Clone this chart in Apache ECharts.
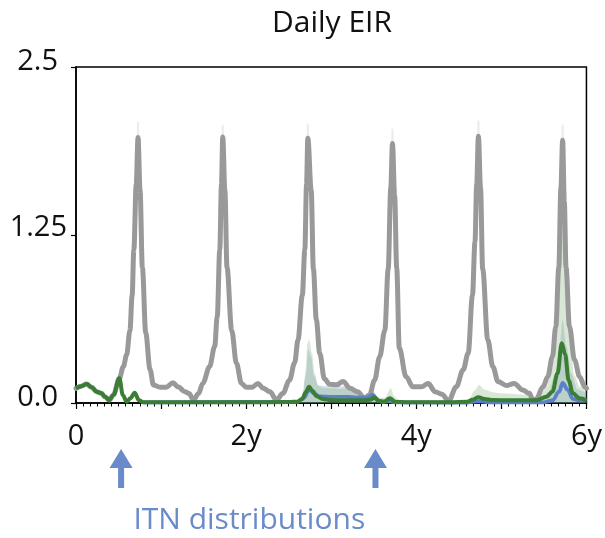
<!DOCTYPE html>
<html>
<head>
<meta charset="utf-8">
<script src="https://cdn.jsdelivr.net/npm/echarts@6/dist/echarts.min.js"></script>
<style>
html,body{margin:0;padding:0;background:#fff;}
#chart{width:605px;height:538px;}
</style>
</head>
<body>
<div id="chart"></div>
<script>
// ---------- data (time in years, daily EIR) ----------
const chartTitle = 'Daily EIR';
const xTickLabels = {0: '0', 2: '2y', 4: '4y', 6: '6y'};
const yTickLabels = {0: '0.0', 1.25: '1.25', 2.5: '2.5'};
const itnDates = [0.53, 3.52];
const itnLabel = 'ITN distributions';

// no-intervention (grey)
const grayT = [0,0.06,0.125,0.184,0.243,0.30,0.34,0.39,0.44,0.51,0.556,0.595,0.634,0.66,0.68,0.708,0.729,0.753,0.78,0.82,0.87,0.91,0.99,1.06,1.14,1.2,1.28,1.33,1.38,1.44,1.49,1.57,1.63,1.66,1.69,1.71,1.725,1.75,1.775,1.83,1.886,1.945,2.0,2.07,2.14,2.2,2.28,2.355,2.43,2.51,2.57,2.61,2.66,2.69,2.71,2.725,2.765,2.79,2.825,2.865,2.92,2.98,3.06,3.14,3.22,3.31,3.39,3.45,3.51,3.57,3.63,3.67,3.70,3.72,3.745,3.77,3.80,3.88,3.96,4.06,4.14,4.22,4.30,4.38,4.47,4.55,4.61,4.66,4.69,4.71,4.73,4.755,4.78,4.84,4.90,4.96,5.06,5.15,5.25,5.33,5.37,5.41,5.49,5.545,5.60,5.64,5.675,5.70,5.72,5.74,5.76,5.80,5.86,5.92,5.98,6.0];
const grayV = [0.109,0.125,0.141,0.117,0.084,0.072,0.047,0.022,0.06,0.184,0.27,0.357,0.54,0.8,1.14,1.63,1.975,1.58,1.01,0.52,0.25,0.134,0.117,0.118,0.15,0.12,0.084,0.07,0.022,0.07,0.146,0.27,0.42,0.64,1.14,1.63,1.98,1.58,1.01,0.54,0.295,0.146,0.117,0.118,0.146,0.11,0.084,0.022,0.07,0.17,0.3,0.47,0.8,1.14,1.63,1.97,1.58,1.0,0.62,0.37,0.18,0.14,0.135,0.16,0.11,0.084,0.035,0.06,0.17,0.345,0.54,1.0,1.6,1.93,1.55,1.0,0.41,0.196,0.12,0.12,0.146,0.084,0.066,0.015,0.12,0.245,0.37,0.8,1.2,1.63,1.985,1.6,1.0,0.47,0.27,0.16,0.13,0.146,0.097,0.072,0.02,0.03,0.12,0.196,0.345,0.57,1.01,1.6,1.955,1.5,1.01,0.57,0.32,0.196,0.12,0.11];

// ITN scenario A (green)
const greenT = [0,0.06,0.125,0.184,0.243,0.30,0.34,0.39,0.44,0.51,0.55,0.595,0.64,0.69,0.74,0.79,1.2,2.0,2.5,2.6,2.66,2.70,2.74,2.78,2.83,2.9,3.0,3.2,3.4,3.46,3.51,3.56,3.62,3.69,3.75,3.9,4.4,4.6,4.66,4.73,4.8,4.9,5.1,5.3,5.41,5.53,5.60,5.66,5.71,5.75,5.79,5.84,5.92,6.0];
const greenV = [0.109,0.125,0.141,0.117,0.084,0.072,0.047,0.022,0.06,0.184,0.06,0.01,0.035,0.077,0.02,0.006,0.006,0.006,0.007,0.01,0.03,0.08,0.121,0.09,0.05,0.03,0.022,0.02,0.02,0.025,0.04,0.015,0.01,0.035,0.01,0.006,0.006,0.01,0.025,0.042,0.03,0.022,0.02,0.02,0.02,0.047,0.084,0.22,0.444,0.36,0.17,0.072,0.035,0.02];

// ITN scenario B (blue)
const blueT = [0.79,2.6,2.68,2.74,2.8,2.86,3.0,3.2,3.35,3.42,3.49,3.54,3.6,3.69,3.75,4.6,4.7,4.78,4.85,5.5,5.6,5.68,5.72,5.78,5.84,5.92,6.0];
const blueV = [0.005,0.008,0.04,0.10,0.07,0.05,0.045,0.045,0.04,0.04,0.06,0.02,0.008,0.015,0.005,0.003,0.012,0.012,0.004,0.005,0.02,0.084,0.15,0.097,0.03,0.02,0.02];

// upper uncertainty bounds
const greenUpT = [2.55,2.62,2.67,2.70,2.72,2.74,2.775,2.805,2.845,2.9,3.0,3.1,3.16,3.27,3.35,3.42,3.51,3.56,3.63,3.70,3.74,3.8,3.9,4.55,4.62,4.68,4.74,4.8,4.9,5.0,5.2,5.3,5.37,5.45,5.53,5.60,5.66,5.70,5.72,5.75,5.80,5.86,5.92,6.0];
const greenUpV = [0.005,0.02,0.05,0.245,0.44,0.47,0.37,0.22,0.13,0.11,0.11,0.105,0.11,0.08,0.06,0.05,0.07,0.04,0.04,0.11,0.05,0.01,0.005,0.005,0.03,0.09,0.134,0.10,0.08,0.072,0.065,0.06,0.03,0.05,0.12,0.27,0.7,1.2,1.33,1.0,0.5,0.2,0.12,0.1];
const blueUpT = [2.55,2.65,2.70,2.73,2.76,2.80,2.85,2.95,3.1,3.16,3.27,3.35,3.42,3.49,3.54,3.62,3.70,3.78,4.6,4.7,4.78,4.9,5.3,5.45,5.55,5.63,5.68,5.72,5.765,5.82,5.9,6.0];
const blueUpV = [0.005,0.03,0.2,0.40,0.35,0.2,0.13,0.125,0.125,0.125,0.085,0.06,0.06,0.10,0.04,0.02,0.03,0.01,0.005,0.04,0.04,0.03,0.02,0.02,0.08,0.2,0.39,0.62,0.42,0.22,0.1,0.07];

// faint upper tips of the grey band at the peaks
const grayPeakT = [0.729,1.725,2.725,3.72,4.73,5.72];
const grayPeakV = [1.975,1.98,1.97,1.93,1.985,1.955];
const grayPeakUp = [2.09,2.07,2.08,2.04,2.1,2.07];

function pairs(t, v){ return t.map((x,i)=>[x, v[i]]); }
const spikeData = [];
grayPeakT.forEach((p,i)=>{
  spikeData.push([p-0.006, grayPeakV[i]-0.1]);
  spikeData.push([p, grayPeakUp[i]]);
  spikeData.push([p+0.006, grayPeakV[i]-0.1]);
  spikeData.push([p+0.007, '-']);
});

const FONT = 'Open Sans';
const FS = 29;
const SM = 0.35;
const chart = echarts.init(document.getElementById('chart'), null, {renderer:'canvas'});
const option = {
  animation: false,
  backgroundColor: '#fff',
  title: {
    text: chartTitle, left: 327, top: 3, textAlign: 'center',
    textStyle: {fontFamily: FONT, fontSize: 30, fontWeight: 'normal', color: '#111'}
  },
  grid: {left: 76, right: 18, top: 67, bottom: 135, show: true, borderColor: '#000', borderWidth: 1.5, backgroundColor: 'transparent'},
  xAxis: {
    type: 'value', min: 0, max: 6, interval: 1,
    axisLine: {lineStyle: {color: '#000', width: 1.5}},
    axisTick: {show: true, length: 6, lineStyle: {color: '#000', width: 1.2}},
    minorTick: {show: true, splitNumber: 12, length: 3.5, lineStyle: {color: '#000', width: 1}},
    splitLine: {show: false},
    axisLabel: {
      margin: 19, fontFamily: FONT, fontSize: FS, color: '#111',
      formatter: v => (xTickLabels[v] !== undefined ? xTickLabels[v] : ''),
      rich: {}
    }
  },
  yAxis: {
    type: 'value', min: 0, max: 2.5, interval: 1.25,
    axisLine: {show: true, lineStyle: {color: '#000', width: 1.5}},
    axisTick: {show: true, length: 5, lineStyle: {color: '#000', width: 1.2}},
    splitLine: {show: false},
    axisLabel: {
      margin: 9, fontFamily: FONT, fontSize: FS, color: '#111',
      formatter: v => {
        const s = yTickLabels[v] !== undefined ? yTickLabels[v] : '';
        return v === 1.25 ? '{a|' + s + '}' : '{b|' + s + '}';
      },
      rich: {
        a: {fontFamily: FONT, fontSize: FS, color: '#111', padding: [0,0,14,0]},
        b: {fontFamily: FONT, fontSize: FS, color: '#111', padding: [0,9,11,0]}
      }
    }
  },
  series: [
    {name:'blueBand', type:'line', data: pairs(blueUpT, blueUpV), showSymbol:false, smooth:SM, smoothMonotone:'x',
     lineStyle:{width:0}, areaStyle:{color:'rgba(100,130,190,0.38)'}, z:1},
    {name:'greenBand', type:'line', data: pairs(greenUpT, greenUpV), showSymbol:false, smooth:SM, smoothMonotone:'x',
     lineStyle:{width:0}, areaStyle:{color:'rgba(125,178,115,0.42)'}, z:2},
    {name:'graySpike', type:'line', data: spikeData, showSymbol:false, connectNulls:false,
     lineStyle:{width:2, color:'rgba(150,150,150,0.18)'}, z:3},
    {name:'No ITN', type:'line', data: pairs(grayT, grayV), showSymbol:false, smooth:SM, smoothMonotone:'x',
     lineStyle:{width:5, color:'#999999', join:'round', cap:'round'}, z:4},
    {name:'ITN B', type:'line', data: pairs(blueT, blueV), showSymbol:false, smooth:SM, smoothMonotone:'x',
     lineStyle:{width:3.8, color:'#5b7fc8', join:'round'}, z:5},
    {name:'ITN A', type:'line', data: pairs(greenT, greenV), showSymbol:false, smooth:SM, smoothMonotone:'x',
     lineStyle:{width:4, color:'#3a7d34', join:'round'}, z:6}
  ]
};
chart.setOption(option);

// ITN distribution arrows and label, positioned from the x axis scale
const axisBottom = chart.convertToPixel({yAxisIndex:0}, 0);
const arrowColor = '#6a8bc9';
const graphics = [];
const xs = itnDates.map(d => chart.convertToPixel({xAxisIndex:0}, d));
xs.forEach(px => {
  const top = axisBottom + 46, headB = top + 19, bot = top + 39;
  graphics.push({
    type:'polygon', silent:true,
    shape:{points:[[px, top],[px+11.5, headB],[px+3, headB],[px+3, bot],[px-3, bot],[px-3, headB],[px-11.5, headB]]},
    style:{fill: arrowColor}
  });
});
graphics.push({
  type:'text', silent:true,
  x: (xs[0]+xs[1])/2 + 1, y: axisBottom + 117,
  style:{text: itnLabel, fill: arrowColor, font: '30px "' + FONT + '"', textAlign:'center', textVerticalAlign:'middle'}
});
chart.setOption({graphic: graphics});
</script>
</body>
</html>
